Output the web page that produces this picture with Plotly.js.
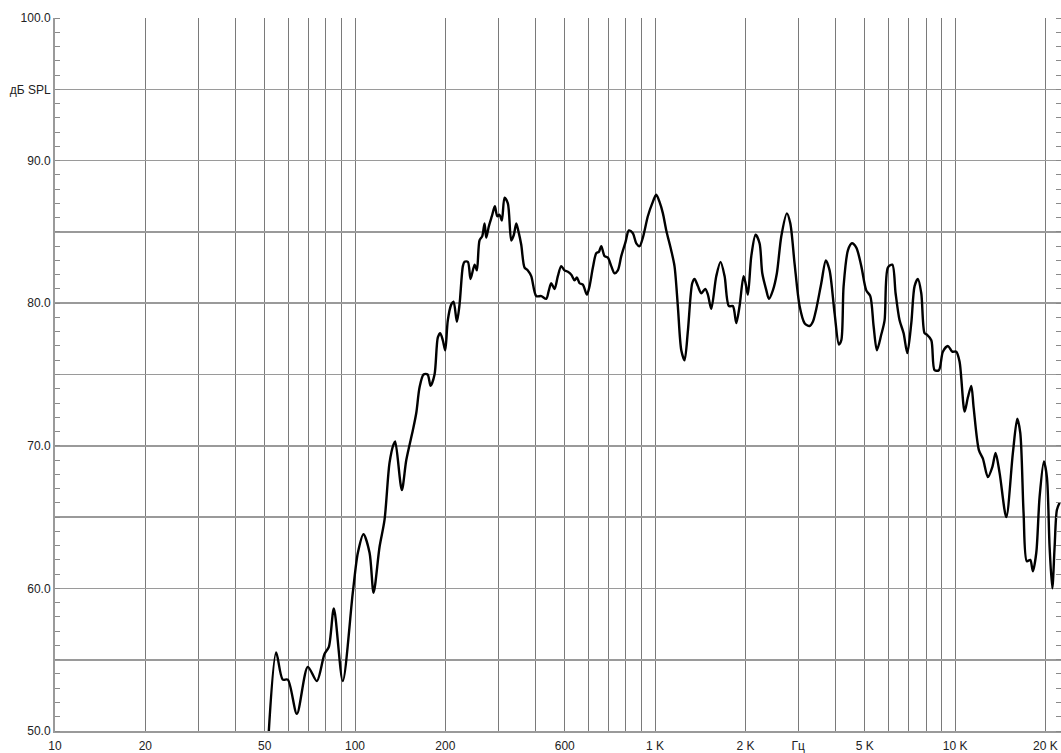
<!DOCTYPE html>
<html>
<head>
<meta charset="utf-8">
<script src="https://cdn.plot.ly/plotly-3.0.1.min.js"></script>
<style>
  html, body { margin: 0; padding: 0; background: #ffffff; }
  #chart { width: 1061px; height: 753px; }
</style>
</head>
<body>
<div id="chart"></div>
<script>
// Frequency response (Hz) and SPL (dB)
const freqHz = [
  51.6, 54.6, 57.4, 59.7, 64.0, 69.6, 74.6, 79.1, 81.8, 85.0,
  91.0, 98.3, 102.2, 106.7, 111.8, 115.3, 120.7, 125.4, 130.3, 134.4,
  136.1, 143.2, 148.2, 155.9, 160.0, 164.1, 169.2, 174.5, 178.6, 184.1,
  188.8, 192.3, 196.2, 199.8, 203.8, 209.2, 213.0, 218.5, 223.0, 228.8,
  231.7, 237.7, 242.7, 250.3, 254.7, 260.0, 265.5, 270.2, 273.7, 279.3,
  285.8, 292.4, 297.9, 303.2, 308.6, 315.0, 323.1, 331.7, 338.4, 344.7,
  350.8, 358.1, 367.3, 376.7, 386.6, 401.8, 417.5, 433.8, 442.6, 450.8,
  462.4, 474.2, 486.8, 499.3, 512.2, 525.8, 539.3, 548.8, 560.3, 574.6,
  592.6, 605.0, 620.5, 636.8, 649.7, 661.8, 678.8, 696.2, 714.5, 732.8,
  751.6, 771.5, 797.4, 817.9, 843.4, 865.7, 887.9, 910.7, 946.2, 978.7,
  1009, 1035, 1062, 1090, 1132, 1161, 1191, 1223, 1254, 1287,
  1330, 1354, 1389, 1426, 1470, 1500, 1539, 1600, 1653, 1705,
  1762, 1817, 1865, 1913, 1972, 2003, 2039, 2093, 2163, 2230,
  2277, 2349, 2396, 2470, 2547, 2635, 2750, 2823, 2917, 3032,
  3150, 3273, 3357, 3446, 3581, 3710, 3817, 3966, 4100, 4176,
  4250, 4393, 4529, 4685, 4868, 5058, 5216, 5350, 5487, 5675,
  5821, 5970, 6176, 6334, 6531, 6735, 6930, 7145, 7328, 7516,
  7714, 7912, 8054, 8331, 8545, 8831, 9106, 9462, 9788, 10093,
  10351, 10757, 11033, 11324, 11527, 12004, 12380, 12862, 13305, 13646,
  14071, 14813, 15582, 16116, 16491, 16914, 17348, 17807, 18164, 18647,
  19125, 19770, 20230, 20654, 21086, 21463, 21843, 22301
];
const splDb = [
  50.0, 55.5, 53.6, 53.6, 51.2, 54.5, 53.5, 55.4, 55.9, 58.6,
  53.5, 59.7, 62.5, 63.8, 62.5, 59.7, 62.9, 64.8, 68.8, 70.1,
  70.3, 66.9, 69.0, 71.1, 72.3, 74.1, 75.0, 75.0, 74.2, 75.0,
  77.6, 77.9, 77.4, 76.7, 78.8, 79.9, 80.1, 78.7, 79.9, 82.6,
  82.9, 82.9, 81.7, 82.7, 82.3, 84.4, 84.7, 85.6, 84.6, 85.4,
  86.1, 86.8, 86.1, 86.2, 85.8, 87.4, 87.0, 84.4, 84.8, 85.6,
  85.0, 84.1, 82.5, 82.3, 81.9, 80.5, 80.5, 80.3, 80.9, 81.4,
  81.0, 81.9, 82.6, 82.3, 82.2, 82.0, 81.6, 81.8, 81.4, 81.3,
  80.6, 81.2, 82.5, 83.5, 83.6, 84.0, 83.3, 83.2, 82.6, 82.1,
  82.3, 83.3, 84.3, 85.1, 84.9, 84.2, 84.0, 84.6, 86.1, 87.0,
  87.6, 87.1, 86.3, 85.1, 83.7, 82.6, 79.8, 76.7, 76.0, 78.1,
  81.4, 81.7, 81.2, 80.7, 81.0, 80.6, 79.6, 81.9, 82.9, 81.9,
  79.8, 79.8, 78.6, 79.8, 81.9, 81.4, 80.6, 83.3, 84.8, 84.2,
  82.1, 80.9, 80.3, 80.9, 82.1, 84.7, 86.3, 85.6, 82.8, 79.8,
  78.6, 78.4, 78.7, 79.6, 81.4, 83.0, 82.3, 79.3, 77.1, 77.4,
  81.2, 83.7, 84.2, 83.9, 82.6, 80.9, 80.5, 78.4, 76.7, 77.8,
  78.8, 82.5, 82.7, 80.7, 78.8, 77.9, 76.5, 78.6, 81.2, 81.7,
  80.7, 77.9, 77.8, 77.4, 75.3, 75.3, 76.6, 77.0, 76.6, 76.6,
  75.9, 72.4, 73.4, 74.2, 72.7, 69.7, 69.1, 67.8, 68.5, 69.5,
  68.1, 65.0, 69.5, 71.9, 70.9, 65.3, 61.9, 62.0, 61.2, 62.5,
  66.4, 68.9, 67.8, 62.9, 60.0, 62.9, 65.5, 66.0
];

// Vertical grid positions and their labels
const xGridHz = [10, 20, 30, 40, 50, 60, 70, 80, 90, 100,
  200, 300, 400, 500, 600, 700, 800, 900, 1000,
  2000, 3000, 4000, 5000, 6000, 7000, 8000, 9000, 10000, 20000];
const xGridText = ['10', '20', '', '', '50', '', '', '', '', '100',
  '200', '', '', '600', '', '', '', '', '1 K',
  '2 K', 'Гц', '', '5 K', '', '', '', '', '10 K', '20 K'];

// Horizontal grid positions and their labels
const yGridDb = [50, 55, 60, 65, 70, 75, 80, 85, 90, 95, 100];
const yGridText = ['50.0', '', '60.0', '', '70.0', '', '80.0', '', '90.0', 'дБ SPL', '100.0'];

const labelFont = { family: 'Liberation Sans, Arial, sans-serif', size: 12, color: '#222222' };

const trace = {
  x: freqHz,
  y: splDb,
  type: 'scatter',
  mode: 'lines',
  line: { color: '#000000', width: 2.4, shape: 'spline', smoothing: 0.8 },
  hoverinfo: 'x+y',
  cliponaxis: true
};

const layout = {
  width: 1061,
  height: 753,
  margin: { l: 55, r: 0, t: 18, b: 22, pad: 0 },
  paper_bgcolor: '#ffffff',
  plot_bgcolor: '#ffffff',
  showlegend: false,
  font: labelFont,
  xaxis: {
    type: 'log',
    range: [1, 4.353],
    tickmode: 'array',
    tickvals: xGridHz,
    ticktext: xGridText,
    ticks: '',
    ticklabelstandoff: 3,
    showgrid: true,
    gridcolor: '#7a7a7a',
    gridwidth: 1,
    showline: true,
    linecolor: '#9a9a9a',
    linewidth: 2,
    zeroline: false,
    tickfont: labelFont,
    fixedrange: true
  },
  yaxis: {
    range: [50, 100],
    tickmode: 'array',
    tickvals: yGridDb,
    ticktext: yGridText,
    ticks: '',
    showgrid: true,
    gridcolor: '#9a9a9a',
    gridwidth: 1.6,
    showline: true,
    linecolor: '#9a9a9a',
    linewidth: 2,
    mirror: 'allticks',
    zeroline: false,
    minor: { dtick: 1, ticks: 'inside', ticklen: 5, tickcolor: '#8a8a8a', tickwidth: 1, showgrid: false },
    tickfont: labelFont,
    fixedrange: true
  }
};

Plotly.newPlot('chart', [trace], layout, { displayModeBar: false, staticPlot: true });
</script>
</body>
</html>
